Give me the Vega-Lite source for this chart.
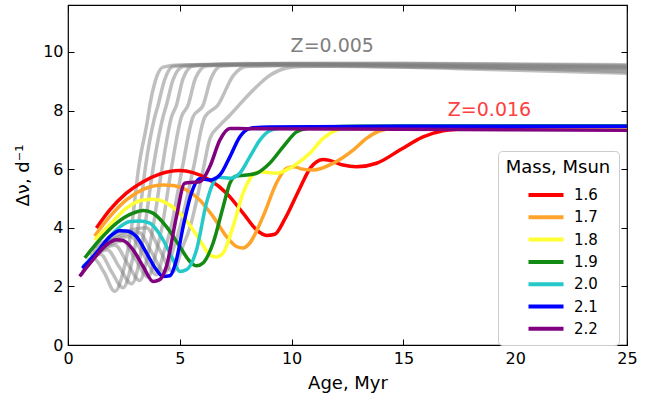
{
  "$schema": "https://vega.github.io/schema/vega-lite/v6.json",
  "width": 559,
  "height": 340,
  "autosize": {"type": "none"},
  "padding": {"left": 68, "top": 5, "right": 31, "bottom": 51},
  "config": {
    "font": "DejaVu Sans",
    "view": {"stroke": "black", "strokeWidth": 1.2},
    "axis": {
      "grid": false, "domain": false, "tickColor": "black", "tickWidth": 1, "labelFlush": false,
      "labelFontSize": 16, "labelColor": "black", "titleFontSize": 18, "titleFontWeight": "normal",
      "titleColor": "black", "labelFont": "DejaVu Sans", "titleFont": "DejaVu Sans"
    }
  },
  "datasets": {
    "gray": [
      {"k":"0","x":0.6,"y":2.38},{"k":"0","x":1.15,"y":2.95},{"k":"0","x":1.6,"y":2.5},{"k":"0","x":2.09,"y":1.83},{"k":"0","x":2.5,"y":2.6},{"k":"0","x":2.84,"y":4.0},{"k":"0","x":3.15,"y":6.0},{"k":"0","x":3.58,"y":7.78},{"k":"0","x":3.66,"y":8.18},{"k":"0","x":3.9,"y":9.0},{"k":"0","x":4.25,"y":9.48},{"k":"0","x":5,"y":9.55},{"k":"0","x":10,"y":9.53},{"k":"0","x":25,"y":9.4},
      {"k":"1","x":0.65,"y":2.5},{"k":"1","x":1.45,"y":3.1},{"k":"1","x":1.95,"y":2.5},{"k":"1","x":2.46,"y":1.95},{"k":"1","x":2.85,"y":2.8},{"k":"1","x":3.13,"y":4.0},{"k":"1","x":3.45,"y":6.0},{"k":"1","x":3.88,"y":7.78},{"k":"1","x":4.03,"y":8.18},{"k":"1","x":4.3,"y":9.0},{"k":"1","x":4.7,"y":9.5},{"k":"1","x":6,"y":9.57},{"k":"1","x":12,"y":9.55},{"k":"1","x":25,"y":9.43},
      {"k":"2","x":0.7,"y":2.6},{"k":"2","x":1.75,"y":3.25},{"k":"2","x":2.3,"y":2.65},{"k":"2","x":2.84,"y":2.09},{"k":"2","x":3.2,"y":2.9},{"k":"2","x":3.43,"y":4.0},{"k":"2","x":3.8,"y":6.0},{"k":"2","x":4.25,"y":7.78},{"k":"2","x":4.4,"y":8.18},{"k":"2","x":4.7,"y":9.05},{"k":"2","x":5.15,"y":9.5},{"k":"2","x":7,"y":9.58},{"k":"2","x":13,"y":9.56},{"k":"2","x":25,"y":9.47},
      {"k":"3","x":0.8,"y":2.75},{"k":"3","x":2.1,"y":3.4},{"k":"3","x":2.65,"y":2.8},{"k":"3","x":3.21,"y":2.2},{"k":"3","x":3.55,"y":3.0},{"k":"3","x":3.8,"y":4.0},{"k":"3","x":4.2,"y":6.0},{"k":"3","x":4.63,"y":7.78},{"k":"3","x":4.85,"y":8.18},{"k":"3","x":5.15,"y":9.1},{"k":"3","x":5.59,"y":9.52},{"k":"3","x":8,"y":9.6},{"k":"3","x":14,"y":9.58},{"k":"3","x":25,"y":9.5},
      {"k":"4","x":0.9,"y":2.9},{"k":"4","x":2.45,"y":3.55},{"k":"4","x":3.0,"y":2.95},{"k":"4","x":3.58,"y":2.32},{"k":"4","x":3.92,"y":3.1},{"k":"4","x":4.2,"y":4.0},{"k":"4","x":4.62,"y":6.0},{"k":"4","x":5.07,"y":7.78},{"k":"4","x":5.37,"y":8.18},{"k":"4","x":5.7,"y":9.1},{"k":"4","x":6.19,"y":9.52},{"k":"4","x":9,"y":9.6},{"k":"4","x":15,"y":9.6},{"k":"4","x":25,"y":9.53},
      {"k":"5","x":1.0,"y":3.05},{"k":"5","x":2.8,"y":3.7},{"k":"5","x":3.4,"y":3.05},{"k":"5","x":3.95,"y":2.4},{"k":"5","x":4.3,"y":3.2},{"k":"5","x":4.6,"y":4.0},{"k":"5","x":5.1,"y":6.0},{"k":"5","x":5.59,"y":7.78},{"k":"5","x":6.04,"y":8.18},{"k":"5","x":6.4,"y":9.1},{"k":"5","x":6.86,"y":9.52},{"k":"5","x":10,"y":9.6},{"k":"5","x":16,"y":9.6},{"k":"5","x":25,"y":9.56},
      {"k":"6","x":1.1,"y":3.2},{"k":"6","x":3.15,"y":3.85},{"k":"6","x":3.75,"y":3.15},{"k":"6","x":4.33,"y":2.46},{"k":"6","x":4.7,"y":3.25},{"k":"6","x":5.0,"y":4.0},{"k":"6","x":5.6,"y":6.0},{"k":"6","x":6.12,"y":7.78},{"k":"6","x":6.7,"y":8.18},{"k":"6","x":7.4,"y":9.2},{"k":"6","x":7.98,"y":9.5},{"k":"6","x":11,"y":9.56},{"k":"6","x":17,"y":9.5},{"k":"6","x":25,"y":9.32},
      {"k":"7","x":1.2,"y":3.35},{"k":"7","x":3.5,"y":4.0},{"k":"7","x":4.1,"y":3.25},{"k":"7","x":4.7,"y":2.5},{"k":"7","x":5.1,"y":3.3},{"k":"7","x":5.45,"y":4.0},{"k":"7","x":6.05,"y":6.0},{"k":"7","x":6.35,"y":7.05},{"k":"7","x":6.8,"y":7.5},{"k":"7","x":7.24,"y":7.84},{"k":"7","x":7.98,"y":8.46},{"k":"7","x":8.35,"y":8.75},{"k":"7","x":9.02,"y":9.2},{"k":"7","x":9.77,"y":9.45},{"k":"7","x":10.37,"y":9.5},{"k":"7","x":12,"y":9.52},{"k":"7","x":18,"y":9.42},{"k":"7","x":25,"y":9.27}
    ],
    "col": [
      {"m":"1.6","x":1.27,"y":3.99},{"m":"1.6","x":1.87,"y":4.61},{"m":"1.6","x":2.61,"y":5.18},{"m":"1.6","x":3.36,"y":5.57},{"m":"1.6","x":4.1,"y":5.83},{"m":"1.6","x":4.99,"y":5.95},{"m":"1.6","x":5.59,"y":5.88},{"m":"1.6","x":6.34,"y":5.63},{"m":"1.6","x":7.09,"y":5.18},{"m":"1.6","x":7.83,"y":4.5},{"m":"1.6","x":8.43,"y":3.93},{"m":"1.6","x":8.88,"y":3.74},{"m":"1.6","x":9.25,"y":3.78},{"m":"1.6","x":9.7,"y":4.3},{"m":"1.6","x":10.37,"y":5.35},{"m":"1.6","x":10.85,"y":6.05},{"m":"1.6","x":11.41,"y":6.33},{"m":"1.6","x":11.7,"y":6.3},{"m":"1.6","x":12.3,"y":6.14},{"m":"1.6","x":12.9,"y":6.08},{"m":"1.6","x":13.8,"y":6.2},{"m":"1.6","x":14.84,"y":6.65},{"m":"1.6","x":15.88,"y":7.1},{"m":"1.6","x":16.78,"y":7.31},{"m":"1.6","x":17.83,"y":7.38},{"m":"1.6","x":19,"y":7.39},{"m":"1.6","x":22,"y":7.38},{"m":"1.6","x":25,"y":7.36},
      {"m":"1.7","x":1.19,"y":3.72},{"m":"1.7","x":1.87,"y":4.38},{"m":"1.7","x":2.61,"y":4.95},{"m":"1.7","x":3.36,"y":5.31},{"m":"1.7","x":4.25,"y":5.46},{"m":"1.7","x":4.7,"y":5.44},{"m":"1.7","x":5.3,"y":5.29},{"m":"1.7","x":5.89,"y":4.95},{"m":"1.7","x":6.49,"y":4.38},{"m":"1.7","x":7.09,"y":3.7},{"m":"1.7","x":7.53,"y":3.36},{"m":"1.7","x":7.83,"y":3.31},{"m":"1.7","x":8.13,"y":3.48},{"m":"1.7","x":8.72,"y":4.38},{"m":"1.7","x":9.32,"y":5.52},{"m":"1.7","x":9.77,"y":6.03},{"m":"1.7","x":10.1,"y":6.08},{"m":"1.7","x":10.5,"y":6.0},{"m":"1.7","x":10.96,"y":5.97},{"m":"1.7","x":11.86,"y":6.2},{"m":"1.7","x":12.75,"y":6.65},{"m":"1.7","x":13.35,"y":7.05},{"m":"1.7","x":13.95,"y":7.31},{"m":"1.7","x":14.54,"y":7.39},{"m":"1.7","x":16,"y":7.42},{"m":"1.7","x":20,"y":7.41},{"m":"1.7","x":25,"y":7.4},
      {"m":"1.8","x":1.19,"y":3.59},{"m":"1.8","x":1.87,"y":4.1},{"m":"1.8","x":2.61,"y":4.67},{"m":"1.8","x":3.36,"y":4.95},{"m":"1.8","x":3.8,"y":4.97},{"m":"1.8","x":4.4,"y":4.84},{"m":"1.8","x":5.15,"y":4.38},{"m":"1.8","x":5.89,"y":3.59},{"m":"1.8","x":6.34,"y":3.08},{"m":"1.8","x":6.64,"y":3.0},{"m":"1.8","x":6.94,"y":3.14},{"m":"1.8","x":7.38,"y":4.04},{"m":"1.8","x":7.83,"y":5.18},{"m":"1.8","x":8.2,"y":5.74},{"m":"1.8","x":8.58,"y":5.91},{"m":"1.8","x":9.0,"y":5.88},{"m":"1.8","x":9.32,"y":5.86},{"m":"1.8","x":9.91,"y":6.03},{"m":"1.8","x":10.81,"y":6.54},{"m":"1.8","x":11.41,"y":7.05},{"m":"1.8","x":12.0,"y":7.33},{"m":"1.8","x":12.6,"y":7.42},{"m":"1.8","x":15,"y":7.44},{"m":"1.8","x":25,"y":7.43},
      {"m":"1.9","x":0.75,"y":2.97},{"m":"1.9","x":1.42,"y":3.59},{"m":"1.9","x":2.17,"y":4.16},{"m":"1.9","x":2.91,"y":4.5},{"m":"1.9","x":3.36,"y":4.59},{"m":"1.9","x":3.8,"y":4.5},{"m":"1.9","x":4.4,"y":4.04},{"m":"1.9","x":5.0,"y":3.36},{"m":"1.9","x":5.45,"y":2.85},{"m":"1.9","x":5.75,"y":2.7},{"m":"1.9","x":6.04,"y":2.8},{"m":"1.9","x":6.49,"y":3.48},{"m":"1.9","x":6.94,"y":4.72},{"m":"1.9","x":7.24,"y":5.52},{"m":"1.9","x":7.5,"y":5.76},{"m":"1.9","x":7.98,"y":5.8},{"m":"1.9","x":8.43,"y":5.86},{"m":"1.9","x":9.02,"y":6.2},{"m":"1.9","x":9.62,"y":6.76},{"m":"1.9","x":10.22,"y":7.27},{"m":"1.9","x":10.67,"y":7.39},{"m":"1.9","x":11.5,"y":7.44},{"m":"1.9","x":15,"y":7.47},{"m":"1.9","x":25,"y":7.48},
      {"m":"2.0","x":0.67,"y":2.68},{"m":"2.0","x":1.42,"y":3.25},{"m":"2.0","x":2.17,"y":3.93},{"m":"2.0","x":2.76,"y":4.21},{"m":"2.0","x":3.21,"y":4.23},{"m":"2.0","x":3.66,"y":4.16},{"m":"2.0","x":4.25,"y":3.59},{"m":"2.0","x":4.7,"y":2.91},{"m":"2.0","x":5.0,"y":2.51},{"m":"2.0","x":5.3,"y":2.57},{"m":"2.0","x":5.75,"y":3.25},{"m":"2.0","x":6.19,"y":4.84},{"m":"2.0","x":6.49,"y":5.52},{"m":"2.0","x":6.74,"y":5.72},{"m":"2.0","x":7.24,"y":5.69},{"m":"2.0","x":7.68,"y":5.86},{"m":"2.0","x":8.13,"y":6.42},{"m":"2.0","x":8.58,"y":6.99},{"m":"2.0","x":9.02,"y":7.31},{"m":"2.0","x":9.47,"y":7.4},{"m":"2.0","x":10.5,"y":7.44},{"m":"2.0","x":15,"y":7.46},{"m":"2.0","x":25,"y":7.46},
      {"m":"2.1","x":0.64,"y":2.62},{"m":"2.1","x":1.27,"y":3.14},{"m":"2.1","x":1.87,"y":3.7},{"m":"2.1","x":2.31,"y":3.9},{"m":"2.1","x":2.61,"y":3.89},{"m":"2.1","x":3.06,"y":3.7},{"m":"2.1","x":3.51,"y":3.14},{"m":"2.1","x":3.95,"y":2.57},{"m":"2.1","x":4.25,"y":2.34},{"m":"2.1","x":4.55,"y":2.36},{"m":"2.1","x":4.85,"y":2.91},{"m":"2.1","x":5.15,"y":4.04},{"m":"2.1","x":5.52,"y":5.18},{"m":"2.1","x":5.89,"y":5.67},{"m":"2.1","x":6.34,"y":5.63},{"m":"2.1","x":6.79,"y":5.8},{"m":"2.1","x":7.24,"y":6.42},{"m":"2.1","x":7.68,"y":7.1},{"m":"2.1","x":8.13,"y":7.39},{"m":"2.1","x":9,"y":7.44},{"m":"2.1","x":15,"y":7.46},{"m":"2.1","x":25,"y":7.46},
      {"m":"2.2","x":0.52,"y":2.34},{"m":"2.2","x":1.12,"y":2.91},{"m":"2.2","x":1.72,"y":3.42},{"m":"2.2","x":2.17,"y":3.59},{"m":"2.2","x":2.46,"y":3.57},{"m":"2.2","x":2.91,"y":3.25},{"m":"2.2","x":3.36,"y":2.68},{"m":"2.2","x":3.8,"y":2.17},{"m":"2.2","x":4.1,"y":2.23},{"m":"2.2","x":4.4,"y":2.68},{"m":"2.2","x":4.85,"y":4.38},{"m":"2.2","x":5.22,"y":5.52},{"m":"2.2","x":5.59,"y":5.55},{"m":"2.2","x":5.89,"y":5.57},{"m":"2.2","x":6.34,"y":6.08},{"m":"2.2","x":6.79,"y":6.99},{"m":"2.2","x":7.24,"y":7.39},{"m":"2.2","x":8,"y":7.38},{"m":"2.2","x":15,"y":7.36},{"m":"2.2","x":25,"y":7.33}
    ]
  },
  "layer": [
    {
      "data": {"name": "gray"},
      "mark": {"type": "line", "stroke": "#808080", "opacity": 0.5, "strokeWidth": 3.5, "interpolate": "monotone"},
      "encoding": {
        "x": {"field": "x", "type": "quantitative", "scale": {"domain": [0, 25], "nice": false, "zero": false},
              "axis": {"orient": "bottom", "title": "Age, Myr", "values": [0, 5, 10, 15, 20, 25], "ticks": false, "labelPadding": 5, "titlePadding": 8}},
        "y": {"field": "y", "type": "quantitative", "scale": {"domain": [0, 11.6], "nice": false},
              "axis": {"orient": "left", "title": "Δν, d⁻¹", "values": [0, 2, 4, 6, 8, 10], "ticks": false, "labelPadding": 5, "titlePadding": 10}},
        "detail": {"field": "k", "type": "nominal"},
        "order": {"field": "x", "type": "quantitative"}
      }
    },
    {
      "data": {"name": "col"},
      "mark": {"type": "line", "strokeWidth": 3.5, "interpolate": "monotone"},
      "encoding": {
        "x": {"field": "x", "type": "quantitative", "axis": null},
        "y": {"field": "y", "type": "quantitative", "axis": null},
        "order": {"field": "x", "type": "quantitative"},
        "color": {
          "field": "m", "type": "nominal",
          "scale": {"domain": ["1.6", "1.7", "1.8", "1.9", "2.0", "2.1", "2.2"],
                    "range": ["#ff0000", "#ffa42a", "#ffff33", "#138a13", "#26c9c9", "#0000ff", "#800080"]},
          "legend": {
            "orient": "none", "legendX": 430, "legendY": 146, "title": "Mass, Msun",
            "titleFontSize": 18, "titleFontWeight": "normal", "titleColor": "black", "titleAnchor": "middle",
            "titlePadding": 6, "labelFontSize": 15, "labelColor": "black",
            "symbolType": "M-1.75,0L1.75,0", "symbolStrokeWidth": 4, "symbolSize": 400, "rowPadding": 2.3,
            "padding": 8, "strokeColor": "#cccccc", "fillColor": "#ffffff", "cornerRadius": 4,
            "labelOffset": 16, "symbolOffset": 15
          }
        }
      }
    },
    {
      "data": {"values": [{"label": "Z=0.005"}]},
      "mark": {"type": "text", "fontSize": 19, "color": "#808080", "align": "center", "baseline": "alphabetic"},
      "encoding": {
        "text": {"field": "label"},
        "x": {"datum": 11.82, "type": "quantitative", "axis": null},
        "y": {"datum": 9.99, "type": "quantitative", "axis": null}
      }
    },
    {
      "data": {"values": [{"label": "Z=0.016"}]},
      "mark": {"type": "text", "fontSize": 19, "color": "#ff4040", "align": "center", "baseline": "alphabetic"},
      "encoding": {
        "text": {"field": "label"},
        "x": {"datum": 18.85, "type": "quantitative", "axis": null},
        "y": {"datum": 7.82, "type": "quantitative", "axis": null}
      }
    },
    {
      "data": {"values": [{}]},
      "mark": {"type": "point", "opacity": 0},
      "encoding": {
        "x": {"datum": 0, "type": "quantitative", "axis": {"orient": "top", "labels": false, "title": null, "tickSize": -6, "values": [0, 5, 10, 15, 20, 25]}},
        "y": {"datum": 0, "type": "quantitative", "axis": {"orient": "right", "labels": false, "title": null, "tickSize": -6, "values": [0, 2, 4, 6, 8, 10]}}
      }
    },
    {
      "data": {"values": [{}]},
      "mark": {"type": "point", "opacity": 0},
      "encoding": {
        "x": {"datum": 0, "type": "quantitative", "axis": {"orient": "bottom", "labels": false, "title": null, "tickSize": -6, "values": [0, 5, 10, 15, 20, 25]}},
        "y": {"datum": 0, "type": "quantitative", "axis": {"orient": "left", "labels": false, "title": null, "tickSize": -6, "values": [0, 2, 4, 6, 8, 10]}}
      }
    }
  ],
  "resolve": {"axis": {"x": "independent", "y": "independent"}}
}
